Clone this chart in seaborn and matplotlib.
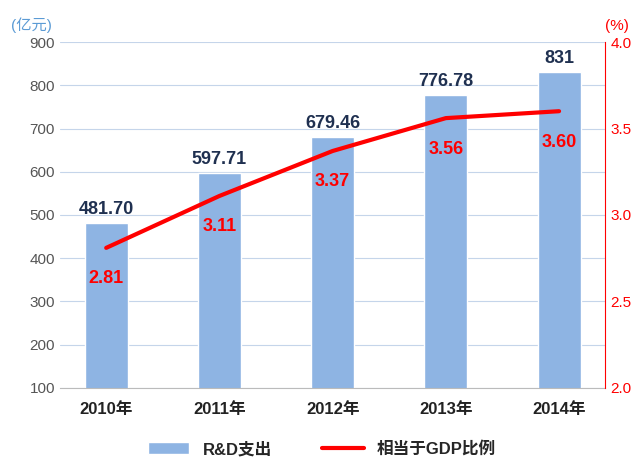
import matplotlib
matplotlib.use("Agg")
import matplotlib.pyplot as plt
import seaborn as sns
import pandas as pd

years = ["2010年", "2011年", "2012年", "2013年", "2014年"]
rd = [481.70, 597.71, 679.46, 776.78, 831]
rd_labels = ["481.70", "597.71", "679.46", "776.78", "831"]
ratio = [2.81, 3.11, 3.37, 3.56, 3.60]
ratio_labels = ["2.81", "3.11", "3.37", "3.56", "3.60"]

sns.set_style("white")
plt.rcParams['font.family'] = ['Liberation Sans', 'Noto Sans CJK SC', 'DejaVu Sans']

fig = plt.figure(figsize=(6.44, 4.72), dpi=100)
ax = fig.add_axes([0.093, 0.178, 0.847, 0.733])
df = pd.DataFrame({"year": years, "rd": rd})
sns.barplot(data=df, x="year", y="rd", color="#8EB4E3", saturation=1, width=0.38, ax=ax, zorder=2, label="R&D支出")
ax.set_ylim(100, 900)
ax.set_yticks(range(100, 901, 100))
ax.grid(axis="y", color="#C5D5EA", lw=0.8, zorder=0)
ax.set_axisbelow(True)
ax.set_xlabel(""); ax.set_ylabel("")
for s in ["top", "right", "left"]:
    ax.spines[s].set_visible(False)
ax.spines["bottom"].set_color("#BBBBBB")
ax.tick_params(axis="y", colors="#555555", labelsize=11, length=0)
ax.tick_params(axis="x", labelsize=12, length=0, pad=10)
for t in ax.get_xticklabels():
    t.set_fontweight("bold"); t.set_color("#222222")
for i, v in enumerate(rd):
    ax.text(i, v + 12, rd_labels[i], ha="center", va="bottom", fontsize=13, fontweight="bold", color="#1F3050")
ax.text(-0.09, 1.035, "(亿元)", transform=ax.transAxes, color="#5B9BD5", fontsize=11, ha="left")

ax2 = ax.twinx()
sns.lineplot(x=list(range(5)), y=ratio, color="#FF0000", lw=3, ax=ax2, label="相当于GDP比例")
ax2.set_ylim(2.0, 4.0)
ax2.set_yticks([2.0, 2.5, 3.0, 3.5, 4.0])
ax2.set_yticklabels(["2.0", "2.5", "3.0", "3.5", "4.0"])
ax2.tick_params(axis="y", colors="#FF0000", labelsize=11, length=0)
for s in ["top", "left", "bottom"]:
    ax2.spines[s].set_visible(False)
ax2.spines["right"].set_color("#FF0000")
ax2.set_ylabel("")
for i, v in enumerate(ratio):
    ax2.text(i, v - 0.13, ratio_labels[i], ha="center", va="top", fontsize=13, fontweight="bold", color="#FF0000")
ax2.text(1.0, 1.035, "(%)", transform=ax.transAxes, color="#FF0000", fontsize=11, ha="left")

h1, l1 = ax.get_legend_handles_labels()
h2, l2 = ax2.get_legend_handles_labels()
if ax2.get_legend(): ax2.get_legend().remove()
if ax.get_legend(): ax.get_legend().remove()
fig.legend(h1 + h2, l1 + l2, loc="lower center", bbox_to_anchor=(0.5, 0.0), ncol=2, frameon=False,
           prop={"size": 12, "weight": "bold"}, handlelength=2.5, columnspacing=3)
fig.savefig("out.png", dpi=100)
